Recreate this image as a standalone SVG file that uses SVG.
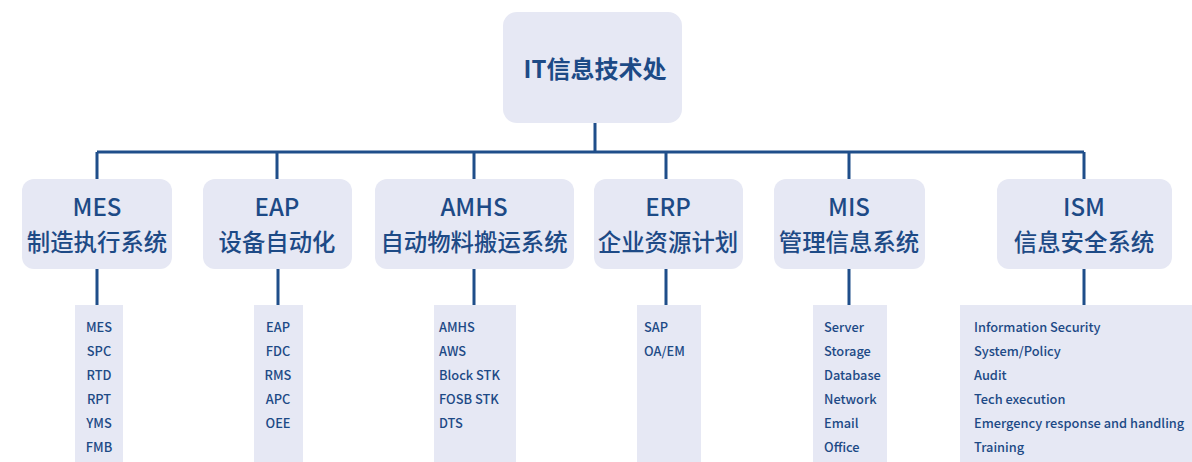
<svg xmlns="http://www.w3.org/2000/svg" width="1192" height="462" viewBox="0 0 1192 462">
<style>
.box{fill:#e6e8f4}
.ln{stroke:#1f4e8a;stroke-width:3;fill:none}
.t{font-family:"Noto Sans CJK SC","Noto Sans",sans-serif;fill:#1d4a86}
.title{font-size:24px;font-weight:700}
.h1{font-size:24px;font-weight:500}
.h2{font-size:23.4px;font-weight:500}
.li{font-size:12.8px;font-weight:500}
</style>
<rect width="1192" height="462" fill="#ffffff"/>
<g id="connectors">
<path class="ln" d="M595 123V152M97 152H1084M97 152V179M277 152V179M474 152V179M666 152V179M849 152V179M1084 152V179"/>
<path class="ln" d="M97 269V305M278 269V305M474 269V305M666 269V305M849 269V305M1084 269V305"/>
</g>
<g id="root">
<rect class="box" x="503" y="12" width="179" height="111" rx="14"/>
<text class="t title" x="595" y="78" text-anchor="middle">IT信息技术处</text>
</g>
<g id="mes">
<rect class="box" x="22" y="179" width="150" height="90" rx="12"/>
<text class="t h1" x="97" y="216" text-anchor="middle">MES</text>
<text class="t h2" x="97" y="251" text-anchor="middle">制造执行系统</text>
</g>
<g id="eap">
<rect class="box" x="203" y="179" width="149" height="90" rx="12"/>
<text class="t h1" x="277" y="216" text-anchor="middle">EAP</text>
<text class="t h2" x="277" y="251" text-anchor="middle">设备自动化</text>
</g>
<g id="amhs">
<rect class="box" x="375" y="179" width="199" height="90" rx="12"/>
<text class="t h1" x="474" y="216" text-anchor="middle">AMHS</text>
<text class="t h2" x="474" y="251" text-anchor="middle">自动物料搬运系统</text>
</g>
<g id="erp">
<rect class="box" x="594" y="179" width="149" height="90" rx="12"/>
<text class="t h1" x="668" y="216" text-anchor="middle">ERP</text>
<text class="t h2" x="668" y="251" text-anchor="middle">企业资源计划</text>
</g>
<g id="mis">
<rect class="box" x="774" y="179" width="151" height="90" rx="12"/>
<text class="t h1" x="849" y="216" text-anchor="middle">MIS</text>
<text class="t h2" x="849" y="251" text-anchor="middle">管理信息系统</text>
</g>
<g id="ism">
<rect class="box" x="997" y="179" width="175" height="90" rx="12"/>
<text class="t h1" x="1084" y="216" text-anchor="middle">ISM</text>
<text class="t h2" x="1084" y="251" text-anchor="middle">信息安全系统</text>
</g>
<g id="mes-list">
<rect class="box" x="75" y="305" width="48" height="157"/>
<g class="t li" text-anchor="middle">
<text x="99" y="332">MES</text><text x="99" y="356">SPC</text><text x="99" y="380">RTD</text><text x="99" y="404">RPT</text><text x="99" y="428">YMS</text><text x="99" y="452">FMB</text>
</g>
</g>
<g id="eap-list">
<rect class="box" x="254" y="305" width="49" height="157"/>
<g class="t li" text-anchor="middle">
<text x="278" y="332">EAP</text><text x="278" y="356">FDC</text><text x="278" y="380">RMS</text><text x="278" y="404">APC</text><text x="278" y="428">OEE</text>
</g>
</g>
<g id="amhs-list">
<rect class="box" x="434" y="305" width="82" height="157"/>
<g class="t li">
<text x="439" y="332">AMHS</text><text x="439" y="356">AWS</text><text x="439" y="380">Block STK</text><text x="439" y="404">FOSB STK</text><text x="439" y="428">DTS</text>
</g>
</g>
<g id="erp-list">
<rect class="box" x="637" y="305" width="64" height="157"/>
<g class="t li">
<text x="644" y="332">SAP</text><text x="644" y="356">OA/EM</text>
</g>
</g>
<g id="mis-list">
<rect class="box" x="813" y="305" width="74" height="157"/>
<g class="t li">
<text x="824" y="332">Server</text><text x="824" y="356">Storage</text><text x="824" y="380">Database</text><text x="824" y="404">Network</text><text x="824" y="428">Email</text><text x="824" y="452">Office</text>
</g>
</g>
<g id="ism-list">
<rect class="box" x="960" y="305" width="232" height="157"/>
<g class="t li">
<text x="974" y="332">Information Security</text><text x="974" y="356">System/Policy</text><text x="974" y="380">Audit</text><text x="974" y="404">Tech execution</text><text x="974" y="428">Emergency response and handling</text><text x="974" y="452">Training</text>
</g>
</g>
</svg>
